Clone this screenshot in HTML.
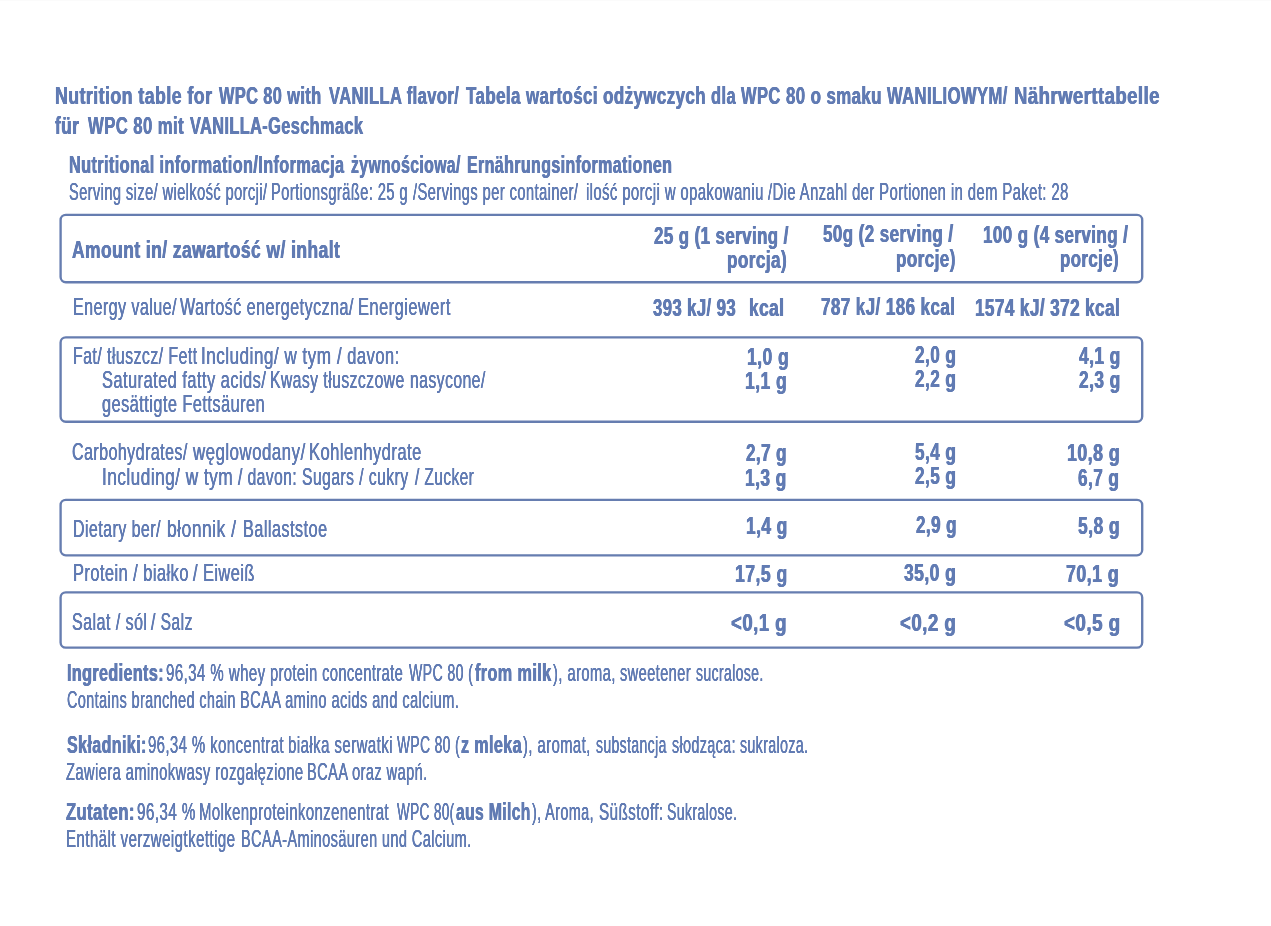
<!DOCTYPE html>
<html lang="en">
<head>
<meta charset="utf-8">
<title>Nutrition table WPC 80 Vanilla</title>
<style>
html,body{margin:0;padding:0;background:#fff;}
body{width:1271px;height:926px;position:relative;overflow:hidden;font-family:"Liberation Sans",sans-serif;color:#617bb3;}
.t{position:absolute;white-space:pre;line-height:30px;transform-origin:0 0;margin:0;padding:0;}
#page{position:absolute;left:0;top:0;width:1271px;height:926px;will-change:transform;transform:translateZ(0);background:#fff;}
.t{letter-spacing:0.7px;text-shadow:0.2px 0 0 #617bb3,-0.2px 0 0 #617bb3;}
.b{font-weight:bold;letter-spacing:0.6px;text-shadow:0.45px 0 0 #617bb3,-0.45px 0 0 #617bb3;}
</style>
</head>
<body>
<div id="page">
<div style="position:absolute;left:0;top:0;width:1271px;height:1px;background:#fbfbfb"></div>
<svg width="1271" height="926" viewBox="0 0 1271 926" style="position:absolute;left:0;top:0">
<rect x="60.60" y="214.85" width="1081.60" height="67.35" rx="5.2" ry="5.2" fill="none" stroke="#667db0" stroke-width="2.35"/>
<rect x="60.60" y="337.40" width="1081.60" height="84.30" rx="5.2" ry="5.2" fill="none" stroke="#667db0" stroke-width="2.35"/>
<rect x="60.60" y="499.80" width="1081.60" height="55.50" rx="5.2" ry="5.2" fill="none" stroke="#667db0" stroke-width="2.35"/>
<rect x="60.60" y="592.40" width="1081.60" height="55.20" rx="5.2" ry="5.2" fill="none" stroke="#667db0" stroke-width="2.35"/>
</svg>
<div class="t b" style="left:54.60px;top:81px;font-size:24.3px;transform:scaleX(0.7315)">Nutrition table for</div>
<div class="t b" style="left:218.60px;top:81px;font-size:24.3px;transform:scaleX(0.6730)">WPC 80 with</div>
<div class="t b" style="left:328.81px;top:81px;font-size:24.3px;transform:scaleX(0.6809)">VANILLA flavor/</div>
<div class="t b" style="left:465.71px;top:81px;font-size:24.3px;transform:scaleX(0.6964)">Tabela wartości odżywczych</div>
<div class="t b" style="left:711.33px;top:81px;font-size:24.3px;transform:scaleX(0.6779)">dla WPC</div>
<div class="t b" style="left:785.71px;top:81px;font-size:24.3px;transform:scaleX(0.6930)">80 o smaku</div>
<div class="t b" style="left:887.21px;top:81px;font-size:24.3px;transform:scaleX(0.6834)">WANILIOWYM/</div>
<div class="t b" style="left:1013.58px;top:81px;font-size:24.3px;transform:scaleX(0.7629)">Nährwerttabelle</div>
<div class="t b" style="left:54.82px;top:111px;font-size:24.3px;transform:scaleX(0.7108)">für</div>
<div class="t b" style="left:88.41px;top:111px;font-size:24.3px;transform:scaleX(0.6878)">WPC 80 mit</div>
<div class="t b" style="left:189.80px;top:111px;font-size:24.3px;transform:scaleX(0.6715)">VANILLA-Geschmack</div>
<div class="t b" style="left:69.23px;top:150px;font-size:24.3px;transform:scaleX(0.6688)">Nutritional information/Informacja</div>
<div class="t b" style="left:351.49px;top:150px;font-size:24.3px;transform:scaleX(0.6485)">żywnościowa/</div>
<div class="t b" style="left:467.24px;top:150px;font-size:24.3px;transform:scaleX(0.6578)">Ernährungsinformationen</div>
<div class="t" style="left:68.72px;top:177px;font-size:24.5px;transform:scaleX(0.5963)">Serving size/ wielkość porcji/</div>
<div class="t" style="left:271.42px;top:177px;font-size:24.5px;transform:scaleX(0.5999)">Portionsgräße: 25 g</div>
<div class="t" style="left:413.12px;top:177px;font-size:24.5px;transform:scaleX(0.6001)">/Servings per container/</div>
<div class="t" style="left:585.72px;top:177px;font-size:24.5px;transform:scaleX(0.6048)">ilość porcji w opakowaniu</div>
<div class="t" style="left:768.02px;top:177px;font-size:24.5px;transform:scaleX(0.6040)">/Die Anzahl der Portionen in dem Paket: 28</div>
<div class="t b" style="left:72.33px;top:235px;font-size:24px;transform:scaleX(0.7276)">Amount in/ zawartość w/ inhalt</div>
<div class="t b" style="left:654.22px;top:221px;font-size:24px;transform:scaleX(0.7033)">25 g (1 serving /</div>
<div class="t b" style="left:727.31px;top:245px;font-size:24px;transform:scaleX(0.7137)">porcja)</div>
<div class="t b" style="left:822.92px;top:219px;font-size:24px;transform:scaleX(0.7077)">50g (2 serving /</div>
<div class="t b" style="left:896.01px;top:244px;font-size:24px;transform:scaleX(0.7101)">porcje)</div>
<div class="t b" style="left:983.31px;top:220px;font-size:24px;transform:scaleX(0.7067)">100 g (4 serving /</div>
<div class="t b" style="left:1060.41px;top:244px;font-size:24px;transform:scaleX(0.7016)">porcje)</div>
<div class="t" style="left:73.12px;top:292px;font-size:24.5px;transform:scaleX(0.6543)">Energy value/</div>
<div class="t" style="left:180.23px;top:292px;font-size:24.5px;transform:scaleX(0.6577)">Wartość energetyczna/</div>
<div class="t" style="left:358.19px;top:292px;font-size:24.5px;transform:scaleX(0.6705)">Energiewert</div>
<div class="t b" style="left:652.51px;top:293px;font-size:24px;transform:scaleX(0.6952)">393 kJ/ 93</div>
<div class="t b" style="left:748.70px;top:293px;font-size:24px;transform:scaleX(0.7210)">kcal</div>
<div class="t b" style="left:821.41px;top:292px;font-size:24px;transform:scaleX(0.7081)">787 kJ/ 186 kcal</div>
<div class="t b" style="left:975.31px;top:293px;font-size:24px;transform:scaleX(0.7127)">1574 kJ/ 372 kcal</div>
<div class="t" style="left:72.83px;top:341px;font-size:24.5px;transform:scaleX(0.6477)">Fat/ tłuszcz/ Fett</div>
<div class="t" style="left:201.34px;top:341px;font-size:24.5px;transform:scaleX(0.6984)">Including/ w tym</div>
<div class="t" style="left:336.64px;top:341px;font-size:24.5px;transform:scaleX(0.6761)">/ davon:</div>
<div class="t" style="left:102.26px;top:365px;font-size:24.5px;transform:scaleX(0.6693)">Saturated fatty acids/</div>
<div class="t" style="left:269.85px;top:365px;font-size:24.5px;transform:scaleX(0.6414)">Kwasy tłuszczowe</div>
<div class="t" style="left:409.69px;top:365px;font-size:24.5px;transform:scaleX(0.6417)">nasycone/</div>
<div class="t" style="left:102.27px;top:389px;font-size:24.5px;transform:scaleX(0.6660)">gesättigte Fettsäuren</div>
<div class="t b" style="left:746.60px;top:342px;font-size:24px;transform:scaleX(0.7314)">1,0 g</div>
<div class="t b" style="left:744.60px;top:366px;font-size:24px;transform:scaleX(0.7314)">1,1 g</div>
<div class="t b" style="left:914.62px;top:340px;font-size:24px;transform:scaleX(0.7169)">2,0 g</div>
<div class="t b" style="left:914.62px;top:364px;font-size:24px;transform:scaleX(0.7169)">2,2 g</div>
<div class="t b" style="left:1078.62px;top:341px;font-size:24px;transform:scaleX(0.7221)">4,1 g</div>
<div class="t b" style="left:1078.62px;top:365px;font-size:24px;transform:scaleX(0.7221)">2,3 g</div>
<div class="t" style="left:72.18px;top:437px;font-size:24.5px;transform:scaleX(0.6532)">Carbohydrates/</div>
<div class="t" style="left:193.13px;top:437px;font-size:24.5px;transform:scaleX(0.6885)">węglowodany/</div>
<div class="t" style="left:309.49px;top:437px;font-size:24.5px;transform:scaleX(0.6749)">Kohlenhydrate</div>
<div class="t" style="left:102.24px;top:462px;font-size:24.5px;transform:scaleX(0.7016)">Including/ w tym</div>
<div class="t" style="left:238.13px;top:462px;font-size:24.5px;transform:scaleX(0.6375)">/ davon:</div>
<div class="t" style="left:302.39px;top:462px;font-size:24.5px;transform:scaleX(0.6404)">Sugars / cukry</div>
<div class="t" style="left:415.13px;top:462px;font-size:24.5px;transform:scaleX(0.6301)">/ Zucker</div>
<div class="t b" style="left:745.72px;top:438px;font-size:24px;transform:scaleX(0.7099)">2,7 g</div>
<div class="t b" style="left:745.00px;top:463px;font-size:24px;transform:scaleX(0.7225)">1,3 g</div>
<div class="t b" style="left:914.62px;top:437px;font-size:24px;transform:scaleX(0.7169)">5,4 g</div>
<div class="t b" style="left:914.62px;top:461px;font-size:24px;transform:scaleX(0.7169)">2,5 g</div>
<div class="t b" style="left:1067.19px;top:438px;font-size:24px;transform:scaleX(0.7413)">10,8 g</div>
<div class="t b" style="left:1077.52px;top:463px;font-size:24px;transform:scaleX(0.7169)">6,7 g</div>
<div class="t" style="left:73.43px;top:514px;font-size:24.5px;transform:scaleX(0.6515)">Dietary ber/</div>
<div class="t" style="left:167.03px;top:514px;font-size:24.5px;transform:scaleX(0.7123)">błonnik /</div>
<div class="t" style="left:243.21px;top:514px;font-size:24.5px;transform:scaleX(0.6628)">Ballaststoe</div>
<div class="t b" style="left:746.10px;top:511px;font-size:24px;transform:scaleX(0.7225)">1,4 g</div>
<div class="t b" style="left:915.72px;top:510px;font-size:24px;transform:scaleX(0.7099)">2,9 g</div>
<div class="t b" style="left:1077.53px;top:511px;font-size:24px;transform:scaleX(0.7291)">5,8 g</div>
<div class="t" style="left:73.40px;top:558px;font-size:24.5px;transform:scaleX(0.6687)">Protein / białko</div>
<div class="t" style="left:193.13px;top:558px;font-size:24.5px;transform:scaleX(0.6670)">/ Eiweiß</div>
<div class="t b" style="left:735.10px;top:559px;font-size:24px;transform:scaleX(0.7356)">17,5 g</div>
<div class="t b" style="left:904.43px;top:558px;font-size:24px;transform:scaleX(0.7295)">35,0 g</div>
<div class="t b" style="left:1066.49px;top:559px;font-size:24px;transform:scaleX(0.7413)">70,1 g</div>
<div class="t" style="left:72.18px;top:607px;font-size:24.5px;transform:scaleX(0.6549)">Salat / sól</div>
<div class="t" style="left:150.63px;top:607px;font-size:24.5px;transform:scaleX(0.6392)">/ Salz</div>
<div class="t b" style="left:730.77px;top:608px;font-size:24px;transform:scaleX(0.7738)">&lt;0,1 g</div>
<div class="t b" style="left:899.77px;top:608px;font-size:24px;transform:scaleX(0.7780)">&lt;0,2 g</div>
<div class="t b" style="left:1063.67px;top:608px;font-size:24px;transform:scaleX(0.7837)">&lt;0,5 g</div>
<div class="t b" style="left:67.14px;top:658px;font-size:24.3px;transform:scaleX(0.6629)">Ingredients:</div>
<div class="t" style="left:165.91px;top:658px;font-size:24.3px;transform:scaleX(0.6184)">96,34 % whey</div>
<div class="t" style="left:270.32px;top:658px;font-size:24.3px;transform:scaleX(0.6018)">protein concentrate</div>
<div class="t" style="left:409.32px;top:658px;font-size:24.3px;transform:scaleX(0.5800)">WPC 80 (</div>
<div class="t b" style="left:475.10px;top:658px;font-size:24.3px;transform:scaleX(0.6673)">from milk</div>
<div class="t" style="left:552.72px;top:658px;font-size:24.3px;transform:scaleX(0.6071)">), aroma,</div>
<div class="t" style="left:620.02px;top:658px;font-size:24.3px;transform:scaleX(0.6000)">sweetener</div>
<div class="t" style="left:695.81px;top:658px;font-size:24.3px;transform:scaleX(0.5748)">sucralose.</div>
<div class="t" style="left:66.83px;top:685px;font-size:24.3px;transform:scaleX(0.5927)">Contains branched chain</div>
<div class="t" style="left:240.02px;top:685px;font-size:24.3px;transform:scaleX(0.6012)">BCAA amino acids and calcium.</div>
<div class="t b" style="left:66.50px;top:730px;font-size:24.3px;transform:scaleX(0.6606)">Składniki:</div>
<div class="t" style="left:147.61px;top:730px;font-size:24.3px;transform:scaleX(0.6129)">96,34 % koncentrat</div>
<div class="t" style="left:288.01px;top:730px;font-size:24.3px;transform:scaleX(0.6180)">białka serwatki</div>
<div class="t" style="left:396.91px;top:730px;font-size:24.3px;transform:scaleX(0.5683)">WPC 80 (</div>
<div class="t b" style="left:461.20px;top:730px;font-size:24.3px;transform:scaleX(0.6629)">z mleka</div>
<div class="t" style="left:523.42px;top:730px;font-size:24.3px;transform:scaleX(0.6106)">), aromat,</div>
<div class="t" style="left:595.91px;top:730px;font-size:24.3px;transform:scaleX(0.5740)">substancja</div>
<div class="t" style="left:672.02px;top:730px;font-size:24.3px;transform:scaleX(0.5866)">słodząca:</div>
<div class="t" style="left:740.12px;top:730px;font-size:24.3px;transform:scaleX(0.5809)">sukraloza.</div>
<div class="t" style="left:66.02px;top:757px;font-size:24.3px;transform:scaleX(0.6042)">Zawiera aminokwasy rozgałęzione</div>
<div class="t" style="left:307.42px;top:757px;font-size:24.3px;transform:scaleX(0.6004)">BCAA oraz wapń.</div>
<div class="t b" style="left:66.31px;top:797px;font-size:24.3px;transform:scaleX(0.6840)">Zutaten:</div>
<div class="t" style="left:136.90px;top:797px;font-size:24.3px;transform:scaleX(0.6251)">96,34 %</div>
<div class="t" style="left:199.40px;top:797px;font-size:24.3px;transform:scaleX(0.6119)">Molkenproteinkonzenentrat</div>
<div class="t" style="left:397.01px;top:797px;font-size:24.3px;transform:scaleX(0.5570)">WPC 80(</div>
<div class="t b" style="left:456.19px;top:797px;font-size:24.3px;transform:scaleX(0.6438)">aus Milch</div>
<div class="t" style="left:531.52px;top:797px;font-size:24.3px;transform:scaleX(0.5914)">), Aroma,</div>
<div class="t" style="left:598.60px;top:797px;font-size:24.3px;transform:scaleX(0.6268)">Süßstoff:</div>
<div class="t" style="left:666.94px;top:797px;font-size:24.3px;transform:scaleX(0.5777)">Sukralose.</div>
<div class="t" style="left:66.28px;top:824px;font-size:24.3px;transform:scaleX(0.6198)">Enthält verzweigtkettige</div>
<div class="t" style="left:240.73px;top:824px;font-size:24.3px;transform:scaleX(0.5971)">BCAA-Aminosäuren und Calcium.</div>
</div>
</body>
</html>
